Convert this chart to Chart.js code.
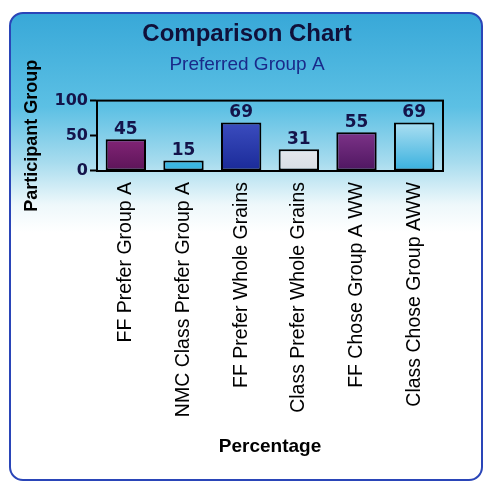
<!DOCTYPE html>
<html>
<head>
<meta charset="utf-8">
<script src="https://cdn.jsdelivr.net/npm/chart.js@4.4.1/dist/chart.umd.min.js"></script>
<style>
    html, body { margin: 0; padding: 0; background: #fff; }
    #card {
        position: absolute; left: 9px; top: 12px; width: 470px; height: 465px;
        border: 2px solid #2a45b8; border-radius: 14px;
        background: linear-gradient(to bottom, #38a8d8 0%, #5cc0e4 20%, #a8dcee 32%, #eef8fb 41%, #ffffff 47%);
    }
    #wrap { position: absolute; left: 0; top: 0; width: 485px; height: 483px; }
</style>
</head>
<body>
<div id="card"></div>
<div id="wrap"><canvas id="chart" width="485" height="483"></canvas></div>
<script>
// Chart data
const categories = ['FF Prefer Group A', 'NMC Class Prefer Group A', 'FF Prefer Whole Grains',
    'Class Prefer Whole Grains', 'FF Chose Group A WW', 'Class Chose Group AWW'];
const values = [45, 15, 69, 31, 55, 69];
const yTicks = [0, 50, 100];

// top / bottom colour of each bar
const barTop = ['#b0389a', '#5ccaee', '#4a5cd0', '#ffffff', '#a24aa8', '#e0f4fa'];
const barBottom = ['#5c1458', '#38b4e0', '#1a2a98', '#d8dde4', '#4e1660', '#38b0de'];

function barFill(context) {
    const chart = context.chart;
    const area = chart.chartArea;
    if (!area) return barTop[context.dataIndex];
    const g = chart.ctx.createLinearGradient(0, area.top, 0, area.bottom);
    g.addColorStop(0, barTop[context.dataIndex]);
    g.addColorStop(1, barBottom[context.dataIndex]);
    return g;
}

// Value labels above bars + frame around plot area
const extras = {
    id: 'extras',
    afterDatasetsDraw(chart) {
        const ctx = chart.ctx;
        const area = chart.chartArea;
        ctx.save();
        ctx.strokeStyle = '#000';
        ctx.lineWidth = 2;
        ctx.strokeRect(area.left, area.top, area.right - area.left, area.bottom - area.top);
        ctx.fillStyle = '#14144a';
        ctx.font = 'bold 17px "DejaVu Sans"';
        ctx.textAlign = 'center';
        ctx.textBaseline = 'bottom';
        chart.getDatasetMeta(0).data.forEach((bar, i) => {
            ctx.fillText(values[i], bar.x, bar.y - 1);
        });
        ctx.restore();
    }
};

new Chart(document.getElementById('chart'), {
    type: 'bar',
    data: {
        labels: categories,
        datasets: [{
            data: values,
            backgroundColor: barFill,
            borderColor: '#000',
            borderWidth: 2,
            borderSkipped: false,
            barPercentage: 0.7,
            categoryPercentage: 1
        }]
    },
    options: {
        responsive: false,
        animation: false,
        layout: { padding: { left: 17, right: 8, top: 20, bottom: 25 } },
        plugins: {
            legend: { display: false },
            tooltip: { enabled: false },
            title: {
                display: true,
                text: 'Comparison Chart',
                color: '#10103a',
                font: { family: 'Liberation Sans', size: 24, weight: 'bold' },
                padding: { top: 0, bottom: 3 }
            },
            subtitle: {
                display: true,
                text: 'Preferred Group A',
                color: '#1a2a8a',
                font: { family: 'Liberation Sans', size: 19 },
                padding: { top: 2, bottom: 24 }
            }
        },
        scales: {
            x: {
                afterFit(scale) { scale.height = 287; },
                grid: { display: false, drawOnChartArea: false, tickLength: 7, tickColor: '#000', tickWidth: 2 },
                border: { color: '#000', width: 2 },
                ticks: {
                    color: '#000',
                    minRotation: 90,
                    maxRotation: 90,
                    padding: 4,
                    font: { family: 'Liberation Sans', size: 19.5 }
                },
                title: {
                    display: true,
                    text: 'Percentage',
                    color: '#000',
                    font: { family: 'Liberation Sans', size: 19, weight: 'bold' },
                    padding: { top: 0, bottom: 0 }
                }
            },
            y: {
                min: 0,
                max: 100,
                afterBuildTicks(axis) { axis.ticks = yTicks.map(v => ({ value: v })); },
                afterFit(scale) { scale.width = 80; },
                grid: { drawOnChartArea: false, tickLength: 7, tickColor: '#000', tickWidth: 2 },
                border: { color: '#000', width: 2 },
                ticks: {
                    color: '#14144a',
                    padding: 2,
                    font: { family: 'DejaVu Sans', size: 16, weight: 'bold' }
                },
                title: {
                    display: true,
                    text: 'Participant Group',
                    color: '#000',
                    font: { family: 'Liberation Sans', size: 18, weight: 'bold' },
                    padding: { top: 4, bottom: 4 }
                }
            },
            // empty right-hand axis, only keeps space so the titles centre on the card
            spacer: {
                position: 'right',
                afterFit(scale) { scale.width = 34; },
                grid: { display: false },
                border: { display: false },
                ticks: { display: false }
            }
        }
    },
    plugins: [extras]
});
</script>
</body>
</html>
